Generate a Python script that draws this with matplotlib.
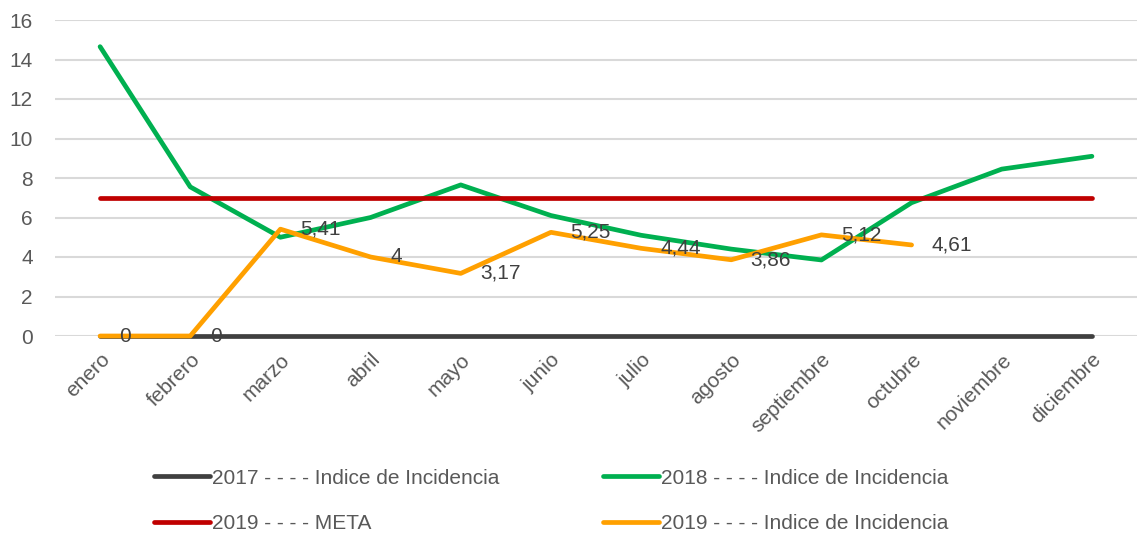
import matplotlib
matplotlib.use('Agg')
import matplotlib.pyplot as plt
from matplotlib import font_manager

names = {f.name for f in font_manager.fontManager.ttflist}
FONT = 'Liberation Sans Narrow' if 'Liberation Sans Narrow' in names else 'Liberation Sans'
plt.rcParams['font.family'] = [FONT, 'DejaVu Sans']

MONTHS = ['enero', 'febrero', 'marzo', 'abril', 'mayo', 'junio', 'julio',
          'agosto', 'septiembre', 'octubre', 'noviembre', 'diciembre']
IND_2017 = [0, 0, 0, 0, 0, 0, 0, 0, 0, 0, 0, 0]
IND_2018 = [14.65, 7.55, 5.0, 6.0, 7.65, 6.1, 5.1, 4.4, 3.85, 6.75, 8.45, 9.1]
META_2019 = [7, 7, 7, 7, 7, 7, 7, 7, 7, 7, 7, 7]
IND_2019 = [0, 0, 5.41, 4, 3.17, 5.25, 4.44, 3.86, 5.12, 4.61]
LABELS_2019 = ['0', '0', '5,41', '4', '3,17', '5,25', '4,44', '3,86', '5,12', '4,61']

DARK, GREEN, RED, ORANGE = '#404040', '#00b050', '#c00000', '#ffa000'
TXT, GRID = '#595959', '#d9d9d9'

fig = plt.figure(figsize=(11.37, 5.33), dpi=100)
ax = fig.add_axes([55 / 1137, 1 - 336 / 533, 1 - 55 / 1137, (336 - 20) / 533])

x = list(range(len(MONTHS)))
lw = 3.4
kw = dict(lw=lw, solid_capstyle='round', clip_on=False)
l17, = ax.plot(x, IND_2017, color=DARK, zorder=3, **kw)
l18, = ax.plot(x, IND_2018, color=GREEN, zorder=3, **kw)
lmeta, = ax.plot(x, META_2019, color=RED, zorder=3, **kw)
l19, = ax.plot(x[:len(IND_2019)], IND_2019, color=ORANGE, zorder=4, **kw)

for xi, v, s in zip(x, IND_2019, LABELS_2019):
    ax.annotate(s, (xi, v), xytext=(14, 0), textcoords='offset points',
                ha='left', va='center', fontsize=15, color=DARK, zorder=5)

ax.set_xlim(-0.5, 11.5)
ax.set_ylim(0, 16)
ax.set_yticks(range(0, 17, 2))
ax.set_xticks(x)
ax.set_xticklabels(MONTHS, rotation=45, ha='right', rotation_mode='anchor')
ax.tick_params(axis='both', length=0, labelsize=15, labelcolor=TXT)
ax.tick_params(axis='y', pad=16)
ax.tick_params(axis='x', pad=10)
for sp in ax.spines.values():
    sp.set_visible(False)
ax.grid(axis='y', color=GRID, lw=1.5)
ax.set_axisbelow(True)

fig.legend([l17, lmeta, l18, l19],
           ['2017 - - - - Indice de Incidencia', '2019 - - - - META',
            '2018 - - - - Indice de Incidencia', '2019 - - - - Indice de Incidencia'],
           ncol=2, loc='upper left', bbox_to_anchor=(135 / 1137, 1 - 450 / 533),
           frameon=False, fontsize=15, labelcolor=TXT, handlelength=2.7,
           handletextpad=0.1, columnspacing=4.95, labelspacing=1.25)

fig.savefig('out.png')
